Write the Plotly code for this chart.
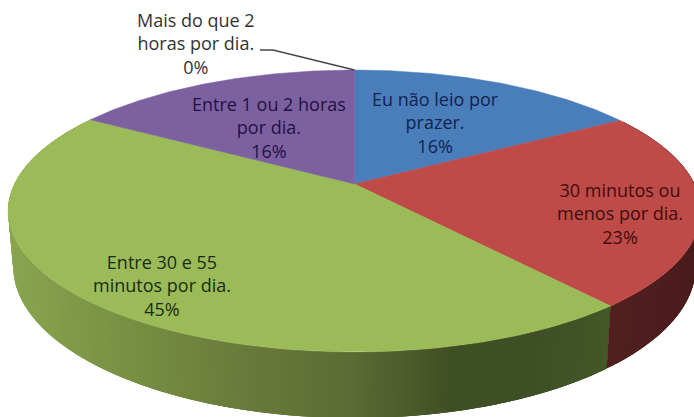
"""
3D-look pie chart drawn on pixel-sized axes: reading time per day.
"""
import numpy as np
import plotly.graph_objects as go

# Data
categories = ["Eu não leio por<br>prazer.", "30 minutos ou<br>menos por dia.", "Entre 30 e 55<br>minutos por dia.",
              "Entre 1 ou 2 horas<br>por dia.", "Mais do que 2<br>horas por dia."]
percent_labels = ["16%", "23%", "45%", "16%", "0%"]
values = [16.4, 22.5, 44.8, 16.3, 0]

# Style
TOP_COLORS = ["#4a7ebb", "#be4b48", "#9bbb59", "#7d60a0", "#4bacc6"]
LABEL_COLORS = ["#14224e", "#3f0d0d", "#1c2c12", "#1d1240", "#333333"]
LABEL_POS = [(435, 122), (620, 213), (162, 285), (269, 127), (196, 43)]
FONT = "Open Sans"
FONT_SIZE = 18

# Perspective of the pie disc, fitted to the reference
CX, CY = 354.5, 184
RX, RY, TILT = 340, 135.8, 0.1915
DEPTH, BOTTOM_SHRINK = 53.4, 0.985


def top_rim(theta):
    u, v = np.sin(theta), np.cos(theta)
    w = 1 + TILT * v
    return CX + RX * u / w, CY - RY * v / w


def bottom_rim(theta):
    u, v = np.sin(theta), np.cos(theta)
    w = 1 + TILT * v
    return CX + BOTTOM_SHRINK * RX * u / w, CY + (DEPTH - RY * v) / w


def side_color(i, x):
    # shading of the side wall runs from left to right
    if i == 1:
        stops = [(600, (84, 32, 32)), (700, (74, 28, 28))]
    else:
        stops = [(10, (138, 165, 80)), (100, (124, 148, 70)), (230, (107, 125, 60)),
                 (347, (92, 108, 52)), (450, (63, 79, 36)), (540, (63, 80, 38)), (610, (68, 88, 40))]
    xs = [s[0] for s in stops]
    rgb = [np.interp(x, xs, [s[1][k] for s in stops]) for k in range(3)]
    return "rgb(%d,%d,%d)" % tuple(rgb)


fig = go.Figure()
edges = np.radians(np.concatenate([[0], np.cumsum(values)]) * 3.6)

# Side wall, only the red and green slices face the viewer.
# Painted from left to right, every piece runs on under the next one so no seams show.
for i in (2, 1):
    start = min(edges[i + 1], np.radians(310))
    stop = max(edges[i], np.radians(60))
    steps = np.linspace(start, stop, int(np.degrees(start - stop)) + 2)
    for k in range(len(steps) - 1):
        ring = np.linspace(steps[k], steps[min(k + 3, len(steps) - 1)], 6)
        x1, y1 = top_rim(ring)
        x2, y2 = bottom_rim(ring[::-1])
        fig.add_trace(go.Scatter(
            x=np.concatenate([x1, x2]), y=np.concatenate([y1, y2]), mode="none", fill="toself",
            fillcolor=side_color(i, top_rim(steps[k])[0]), hoverinfo="skip",
        ))

# Top face
for i, val in enumerate(values):
    if val == 0:
        continue
    arc = np.linspace(edges[i], edges[i + 1], 120)
    x, y = top_rim(arc)
    fig.add_trace(go.Scatter(
        x=np.concatenate([[CX], x, [CX]]), y=np.concatenate([[CY], y, [CY]]), mode="lines", fill="toself",
        fillcolor=TOP_COLORS[i], line=dict(color=TOP_COLORS[i], width=0.5), name=categories[i], hoverinfo="skip",
    ))

# Leader line of the 0% slice
x0, y0 = top_rim(np.array([0.0]))
fig.add_trace(go.Scatter(
    x=[260, 273, x0[0]], y=[50, 50, y0[0]], mode="lines",
    line=dict(color="#454545", width=1.4), hoverinfo="skip",
))

for cat, pct, pos, col in zip(categories, percent_labels, LABEL_POS, LABEL_COLORS):
    fig.add_annotation(
        x=pos[0], y=pos[1], text=f"{cat}<br>{pct}", showarrow=False, align="center",
        font=dict(family=FONT, size=FONT_SIZE, color=col),
    )

fig.update_layout(
    width=694, height=417, showlegend=False,
    paper_bgcolor="white", plot_bgcolor="white",
    margin=dict(l=0, r=0, t=0, b=0),
)
fig.update_xaxes(range=[0, 694], visible=False)
fig.update_yaxes(range=[417, 0], visible=False)
# the page's default body margin would push the chart off the window
fig.write_html("out.html", config=dict(displayModeBar=False),
               post_script="document.body.style.margin='0';document.documentElement.style.overflow='hidden';")
